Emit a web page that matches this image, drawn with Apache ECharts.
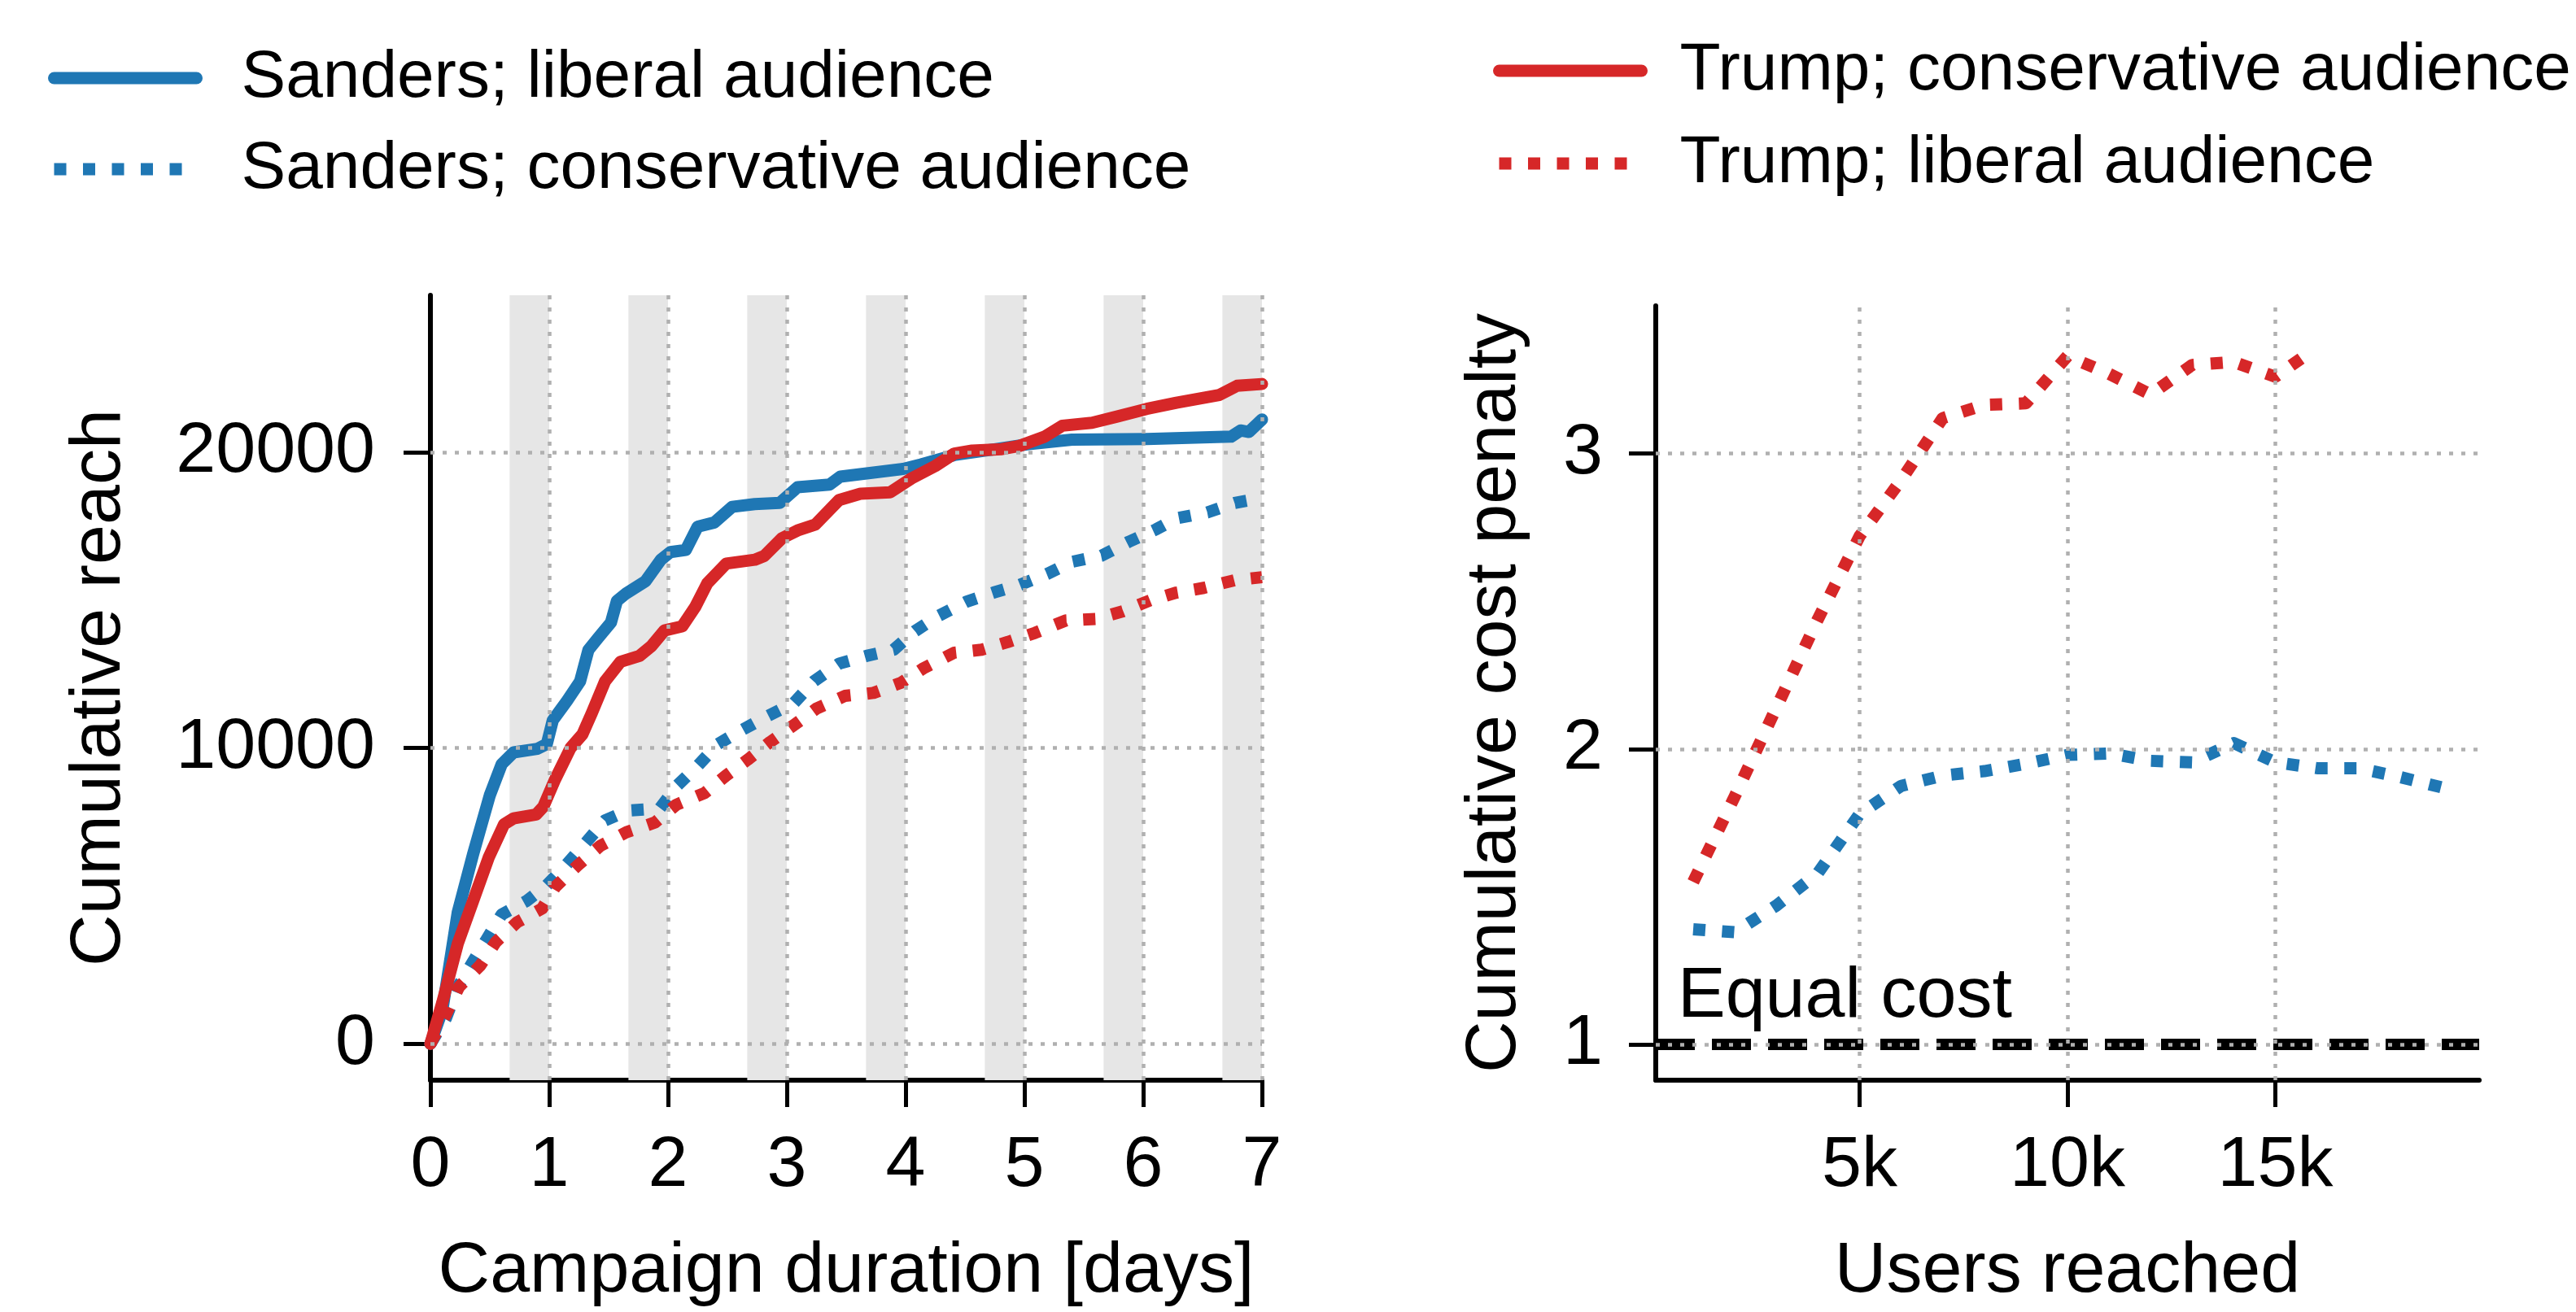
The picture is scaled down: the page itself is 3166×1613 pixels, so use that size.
<!DOCTYPE html>
<html><head><meta charset="utf-8">
<script src="https://cdn.jsdelivr.net/npm/echarts@6/dist/echarts.min.js"></script>
<style>html,body{margin:0;padding:0;background:#fff}#c{width:3166px;height:1613px}</style>
</head><body><div id="c"></div>
<script>
// ---------- Left panel: cumulative reach over campaign days ----------
const sandersLibDays  = [0,0.1,0.23,0.36,0.5,0.6,0.7,0.9,0.98,1.03,1.15,1.26,1.33,1.41,1.52,1.57,1.65,1.81,1.94,2.02,2.15,2.25,2.39,2.54,2.73,2.94,3.09,3.36,3.45,3.98,4.13,4.41,4.76,5.02,5.4,6.03,6.74,6.82,6.89,7.0];
const sandersLibReach = [0,1130,4440,6420,8400,9450,9850,9970,10130,10930,11590,12250,13310,13710,14240,14970,15230,15630,16360,16620,16690,17480,17620,18150,18240,18280,18810,18900,19170,19430,19580,19900,20100,20260,20420,20440,20520,20730,20680,21100];

const sandersConDays  = [0,0.13,0.23,0.35,0.47,0.6,0.81,0.98,1.14,1.3,1.47,1.66,1.93,2.08,2.25,2.42,2.62,2.83,3.06,3.23,3.44,3.67,3.9,4.08,4.28,4.51,4.74,4.96,5.19,5.4,5.65,5.88,6.11,6.28,6.54,6.77,7.0];
const sandersConReach = [0,860,1920,2720,3510,4370,4830,5360,6030,6760,7550,7880,7950,8740,9400,10130,10600,11060,11520,12260,12850,13110,13320,13950,14470,14940,15250,15510,15880,16290,16500,16970,17390,17760,17960,18280,18450];

const trumpConDays  = [0,0.1,0.23,0.36,0.49,0.62,0.7,0.89,0.95,1.05,1.18,1.28,1.36,1.47,1.6,1.76,1.86,1.97,2.12,2.23,2.33,2.49,2.73,2.81,2.96,3.09,3.24,3.44,3.62,3.87,4.05,4.25,4.41,4.56,4.81,4.96,5.17,5.32,5.57,5.78,6.03,6.28,6.64,6.79,7.0];
const trumpConReach = [0,1390,3380,4830,6290,7420,7620,7750,8010,8940,10000,10460,11190,12250,12910,13110,13440,13970,14110,14770,15560,16230,16360,16490,17090,17350,17550,18380,18590,18640,19110,19530,19950,20050,20100,20210,20520,20890,20990,21200,21460,21670,21930,22240,22300];

const trumpLibDays  = [0,0.13,0.24,0.42,0.55,0.73,0.94,1.05,1.24,1.43,1.65,1.89,2.07,2.31,2.49,2.67,2.86,3.07,3.25,3.49,3.73,3.96,4.15,4.41,4.64,4.86,5.09,5.35,5.6,5.83,6.06,6.28,6.51,6.77,7.0];
const trumpLibReach = [0,990,1920,2650,3440,4110,4570,5300,6030,6690,7150,7480,8080,8480,9070,9600,10200,10800,11330,11760,11860,12200,12690,13220,13320,13580,13890,14310,14360,14620,14990,15250,15410,15670,15770];

const nightStart = [0.667,1.667,2.667,3.667,4.667,5.667,6.667];
const nightEnd   = [1,2,3,4,5,6,7];
const dayTicks   = [1,2,3,4,5,6,7];
const reachTicks = [0,10000,20000];

// ---------- Right panel: cumulative cost penalty vs users reached ----------
const sandersPenUsers = [1000,2000,3000,4000,5000,6000,7000,8000,9000,10000,11000,12000,13000,14000,15000,16000,17000,18000,19000];
const sandersPenalty  = [1.39,1.38,1.47,1.58,1.78,1.875,1.91,1.925,1.95,1.98,1.985,1.96,1.955,2.02,1.955,1.935,1.935,1.905,1.87];
const trumpPenUsers = [1000,2000,3000,4000,5000,6000,7000,8000,9000,10000,11000,12000,13000,14000,15000,15800];
const trumpPenalty  = [1.55,1.84,2.14,2.44,2.72,2.91,3.12,3.165,3.17,3.33,3.27,3.20,3.30,3.31,3.26,3.34];
const usersTicks   = [5000,10000,15000];
const penaltyTicks = [1,2,3];
const equalCostLevel = 1;

const BLUE = '#1f77b4', RED = '#d62728';
const FONT = 'Liberation Sans';
const LW = 15;
const pairs = (xs, ys) => xs.map((x, i) => [x, ys[i]]);

const gridLineStyle = {color:'#b0b0b0', width:4.5, type:[5,10], cap:'butt'};
const solid  = c => ({color:c, width:LW, type:'solid', join:'round', cap:'round'});
const dotted = c => ({color:c, width:LW, type:[LW, 20.5], join:'round', cap:'butt'});

const axisTxt = {fontSize:88, color:'#000', fontFamily:FONT};
const axLine = {show:true, onZero:false, lineStyle:{color:'#000', width:6}};
const axTick = (vals) => ({show:true, inside:false, length:33, lineStyle:{color:'#000', width:5}, customValues:vals});

const chart = echarts.init(document.getElementById('c'), null, {renderer:'canvas'});

const lineBase = {type:'line', symbol:'none', showSymbol:false, smooth:false, animation:false, silent:true};
const legendText = pad => ({fontSize:82, color:'#000', fontFamily:FONT, lineHeight:90, padding:[0,0,0,pad]});

chart.setOption({
  animation:false,
  backgroundColor:'#fff',
  textStyle:{fontFamily:FONT},
  legend:[
    {data:['Sanders; liberal audience','Sanders; conservative audience'], orient:'vertical',
     left:54, top:46, itemWidth:175, itemHeight:2, itemGap:22,
     itemStyle:{opacity:0, borderWidth:0}, lineStyle:{width:LW},
     textStyle:legendText(50), selectedMode:false},
    {data:['Trump; conservative audience','Trump; liberal audience'], orient:'vertical',
     left:1830, top:37, itemWidth:175, itemHeight:2, itemGap:24,
     itemStyle:{opacity:0, borderWidth:0}, lineStyle:{width:LW},
     textStyle:legendText(42), selectedMode:false}
  ],
  grid:[
    {left:529, top:363, width:1022, height:970},
    {left:2035, top:376, width:1012, height:957}
  ],
  xAxis:[
    {type:'value', gridIndex:0, min:0, max:7, interval:1,
     name:'Campaign duration [days]', nameLocation:'middle', nameGap:192, nameTextStyle:axisTxt,
     axisLine:axLine, axisTick:{show:true, length:33, lineStyle:{color:'#000', width:5}},
     axisLabel:Object.assign({margin:62}, axisTxt), splitLine:{show:false}},
    {type:'value', gridIndex:1, min:100, max:19900,
     name:'Users reached', nameLocation:'middle', nameGap:192, nameTextStyle:axisTxt,
     axisLine:axLine, axisTick:axTick(usersTicks),
     axisLabel:Object.assign({margin:62, customValues:usersTicks, formatter:v => (v/1000)+'k'}, axisTxt),
     splitLine:{show:false}}
  ],
  yAxis:[
    {type:'value', gridIndex:0, min:-1230, max:25300,
     name:'Cumulative reach', nameLocation:'middle', nameRotate:90, nameGap:362, nameTextStyle:axisTxt,
     axisLine:axLine, axisTick:axTick(reachTicks),
     axisLabel:Object.assign({margin:68, customValues:reachTicks, formatter:v => String(v)}, axisTxt), splitLine:{show:false}},
    {type:'value', gridIndex:1, min:0.879, max:3.5,
     name:'Cumulative cost penalty', nameLocation:'middle', nameRotate:90, nameGap:153, nameTextStyle:axisTxt,
     axisLine:axLine, axisTick:axTick(penaltyTicks),
     axisLabel:Object.assign({margin:65, customValues:penaltyTicks, formatter:v => String(v)}, axisTxt), splitLine:{show:false}}
  ],
  series:[
    Object.assign({}, lineBase, {name:'_bands', xAxisIndex:0, yAxisIndex:0, data:[], z:1,
      markArea:{silent:true, itemStyle:{color:'#e6e6e6'}, data:nightStart.map((s,i)=>[{xAxis:s},{xAxis:nightEnd[i]}])}}),
    Object.assign({}, lineBase, {name:'_gridL', xAxisIndex:0, yAxisIndex:0, data:[], z:2,
      markLine:{silent:true, symbol:['none','none'], label:{show:false}, lineStyle:gridLineStyle,
        data:[...reachTicks.map(v=>({yAxis:v})), ...dayTicks.map(v=>({xAxis:v}))]}}),
    Object.assign({}, lineBase, {name:'Sanders; liberal audience', xAxisIndex:0, yAxisIndex:0, z:3,
      data:pairs(sandersLibDays, sandersLibReach), lineStyle:solid(BLUE), itemStyle:{color:BLUE}}),
    Object.assign({}, lineBase, {name:'Sanders; conservative audience', xAxisIndex:0, yAxisIndex:0, z:3,
      data:pairs(sandersConDays, sandersConReach), lineStyle:dotted(BLUE), itemStyle:{color:BLUE}}),
    Object.assign({}, lineBase, {name:'Trump; conservative audience', xAxisIndex:0, yAxisIndex:0, z:4,
      data:pairs(trumpConDays, trumpConReach), lineStyle:solid(RED), itemStyle:{color:RED}}),
    Object.assign({}, lineBase, {name:'Trump; liberal audience', xAxisIndex:0, yAxisIndex:0, z:4,
      data:pairs(trumpLibDays, trumpLibReach), lineStyle:dotted(RED), itemStyle:{color:RED}}),

    Object.assign({}, lineBase, {name:'_gridR', xAxisIndex:1, yAxisIndex:1, data:[], z:2,
      markLine:{silent:true, symbol:['none','none'], label:{show:false}, lineStyle:gridLineStyle,
        data:[...penaltyTicks.map(v=>({yAxis:v})), ...usersTicks.map(v=>({xAxis:v}))]}}),
    Object.assign({}, lineBase, {name:'_equal', xAxisIndex:1, yAxisIndex:1, z:3,
      data:[[100, equalCostLevel],[19900, equalCostLevel]],
      lineStyle:{color:'#000', width:14, type:[48,21], cap:'butt'}, itemStyle:{color:'#000'}}),
    Object.assign({}, lineBase, {name:'Sanders; conservative audience', xAxisIndex:1, yAxisIndex:1, z:4,
      data:pairs(sandersPenUsers, sandersPenalty), lineStyle:dotted(BLUE), itemStyle:{color:BLUE}}),
    Object.assign({}, lineBase, {name:'Trump; liberal audience', xAxisIndex:1, yAxisIndex:1, z:4,
      data:pairs(trumpPenUsers, trumpPenalty), lineStyle:dotted(RED), itemStyle:{color:RED}})
  ]
});

const p = chart.convertToPixel({xAxisIndex:1, yAxisIndex:1}, [628, 1.04]);
chart.setOption({graphic:[{type:'text', x:p[0], y:p[1], silent:true,
  style:{text:'Equal cost', font:'88px "Liberation Sans"', fill:'#000', align:'left', verticalAlign:'bottom'}}]});
</script></body></html>
